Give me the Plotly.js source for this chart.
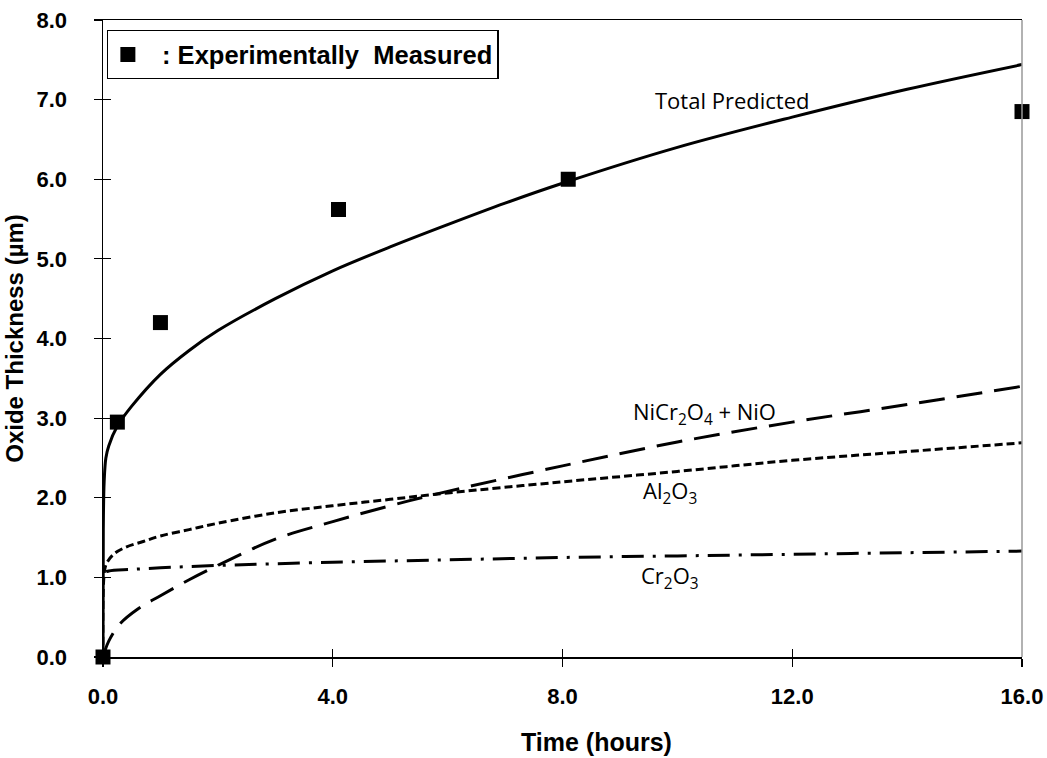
<!DOCTYPE html>
<html><head><meta charset="utf-8">
<script src="https://cdn.plot.ly/plotly-3.0.1.min.js"></script>
<style>body{margin:0;background:#fff}#chart{width:1047px;height:758px}</style>
</head><body><div id="chart"></div>
<script>
// Experimental measurements
const expTime = [0, 0.25, 1.0, 4.1, 8.1, 16.0];
const expThick = [0, 2.95, 4.2, 5.62, 6.0, 6.85];
// Total predicted
const totTime = [0, 0.005, 0.02, 0.05, 0.1, 0.25, 0.5, 1, 1.5, 2, 3, 4, 5, 6, 7, 8, 10, 12, 14, 16];
const totThick = [0, 1.6, 2.2, 2.5, 2.65, 2.9, 3.15, 3.55, 3.85, 4.1, 4.5, 4.85, 5.15, 5.43, 5.7, 5.95, 6.4, 6.78, 7.13, 7.44];
// NiCr2O4 + NiO
const niTime = [0, 0.1, 0.3, 0.6, 1, 1.5, 2, 3, 4, 5, 6, 8, 10, 12, 14, 16];
const niThick = [0, 0.2, 0.42, 0.6, 0.77, 0.97, 1.15, 1.48, 1.7, 1.9, 2.08, 2.4, 2.7, 2.95, 3.17, 3.4];
// Al2O3
const alTime = [0, 0.03, 0.08, 0.2, 0.4, 0.7, 1, 1.5, 2, 3, 4, 5, 6, 8, 10, 12, 14, 16];
const alThick = [0, 1.1, 1.2, 1.3, 1.38, 1.45, 1.52, 1.6, 1.68, 1.81, 1.9, 1.98, 2.06, 2.2, 2.33, 2.47, 2.58, 2.69];
// Cr2O3
const crTime = [0, 0.03, 0.1, 0.5, 1, 2, 4, 6, 8, 10, 12, 14, 16];
const crThick = [0, 1.05, 1.08, 1.1, 1.12, 1.15, 1.19, 1.22, 1.25, 1.27, 1.29, 1.31, 1.33];

const xTicks = [0, 4, 8, 12, 16];
const xTickText = ['0.0', '4.0', '8.0', '12.0', '16.0'];
const yTicks = [0, 1, 2, 3, 4, 5, 6, 7, 8];
const yTickText = ['0.0', '1.0', '2.0', '3.0', '4.0', '5.0', '6.0', '7.0', '8.0'];

const traces = [
  {x: crTime, y: crThick, mode: 'lines', line: {color: '#000', width: 3, dash: '22px,9px,3px,9px', shape: 'spline'}, showlegend: false, hoverinfo: 'skip'},
  {x: alTime, y: alThick, mode: 'lines', line: {color: '#000', width: 3, dash: '8px,4px', shape: 'spline'}, showlegend: false, hoverinfo: 'skip'},
  {x: niTime, y: niThick, mode: 'lines', line: {color: '#000', width: 3, dash: '26px,12px', shape: 'spline'}, showlegend: false, hoverinfo: 'skip'},
  {x: totTime, y: totThick, mode: 'lines', line: {color: '#000', width: 3, shape: 'spline'}, showlegend: false, hoverinfo: 'skip'},
  {x: expTime, y: expThick, mode: 'markers', name: '&nbsp;&nbsp;: Experimentally&nbsp; Measured', marker: {symbol: 'square', size: 15, color: '#000'}, cliponaxis: false},
  // invisible trace to drive overlay axes (inside ticks)
  {x: [0], y: [0], xaxis: 'x2', yaxis: 'y2', mode: 'markers', marker: {opacity: 0}, showlegend: false, hoverinfo: 'skip'}
];

const boldFam = 'Liberation Sans, Arial, sans-serif';
const tickFont = {family: boldFam, size: 22, color: '#000', weight: 'bold'};
const titleFont = {family: boldFam, size: 24, color: '#000', weight: 'bold'};
const annFont = {family: 'Open Sans, Noto Sans, sans-serif', size: 22, color: '#000'};

const layout = {
  width: 1047, height: 758,
  margin: {l: 103, r: 25, t: 20, b: 101},
  paper_bgcolor: '#fff', plot_bgcolor: '#fff',
  xaxis: {range: [0, 16], tickvals: xTicks, ticktext: xTickText, showgrid: false, zeroline: false,
    showline: true, linecolor: '#000', linewidth: 1.5, mirror: true, ticks: 'outside', ticklen: 8, tickwidth: 1.2, tickcolor: '#000',
    ticklabelstandoff: 11, tickfont: tickFont},
  yaxis: {range: [0, 8], tickvals: yTicks, ticktext: yTickText, showgrid: false, zeroline: false,
    showline: true, linecolor: '#000', linewidth: 1.5, ticks: 'outside', ticklen: 8, tickwidth: 1.2, tickcolor: '#000',
    ticklabelstandoff: 22,
    tickfont: tickFont, title: {text: 'Oxide Thickness (µm)', font: titleFont, standoff: 6}},
  xaxis2: {overlaying: 'x', range: [0, 16], tickvals: xTicks, showticklabels: false, showgrid: false, zeroline: false,
    ticks: 'inside', ticklen: 8, tickwidth: 1.2, tickcolor: '#000', showline: false},
  yaxis2: {overlaying: 'y', range: [0, 8], tickvals: yTicks, showticklabels: false, showgrid: false, zeroline: false,
    ticks: 'inside', ticklen: 8, tickwidth: 1.2, tickcolor: '#000', showline: false},
  legend: {x: 0.004, y: 0.984, xanchor: 'left', yanchor: 'top', bgcolor: '#fff', bordercolor: '#000', borderwidth: 1.2,
    font: {family: boldFam, size: 25.5, color: '#000', weight: 'bold'}},
  shapes: [
    {type: 'line', xref: 'paper', yref: 'paper', x0: 1, x1: 1, y0: 0, y1: 1, line: {color: '#999', width: 1.5}}
  ],
  annotations: [
    {x: 0.5365, y: 0, xref: 'paper', yref: 'paper', yanchor: 'middle', yshift: -85, text: 'Time (hours)', showarrow: false,
      font: {family: boldFam, size: 25, color: '#000', weight: 'bold'}},
    {x: 10.95, y: 7.0, xref: 'x', yref: 'y', text: 'Total Predicted', showarrow: false, font: annFont},
    {x: 10.48, y: 3.07, xref: 'x', yref: 'y', text: 'NiCr<sub>2</sub>O<sub>4</sub> + NiO', showarrow: false, font: annFont},
    {x: 9.87, y: 2.07, xref: 'x', yref: 'y', text: 'Al<sub>2</sub>O<sub>3</sub>', showarrow: false, font: annFont},
    {x: 9.87, y: 1.0, xref: 'x', yref: 'y', text: 'Cr<sub>2</sub>O<sub>3</sub>', showarrow: false, font: annFont}
  ]
};

Plotly.newPlot('chart', traces, layout, {displayModeBar: false, staticPlot: true});
</script></body></html>
